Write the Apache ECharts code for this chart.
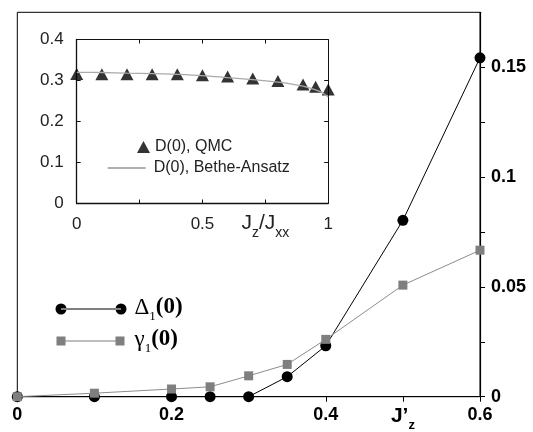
<!DOCTYPE html>
<html>
<head>
<meta charset="utf-8">
<script src="https://cdn.jsdelivr.net/npm/echarts@6/dist/echarts.min.js"></script>
<style>
html,body{margin:0;padding:0;background:#fff;}
#chart{width:533px;height:432px;}
</style>
</head>
<body>
<div id="chart"></div>
<script>
// Main panel data
const mainX = [0, 0.1, 0.2, 0.25, 0.3, 0.35, 0.4, 0.5, 0.6];
const delta1 = [0, 0, 0, 0, 0, 0.0091, 0.0232, 0.0803, 0.1543];
const gamma1 = [0, 0.0016, 0.0035, 0.0045, 0.0095, 0.0147, 0.0261, 0.0508, 0.0667];
const mainXTicks = [0, 0.1, 0.2, 0.3, 0.4, 0.5, 0.6];
const mainXLabels = [0, 0.2, 0.4, 0.5, 0.6];
const mainYTicks = [0, 0.025, 0.05, 0.075, 0.1, 0.125, 0.15];
const mainYLabels = [0, 0.05, 0.1, 0.15];

// Inset data
const qmcX = [0, 0.1, 0.2, 0.3, 0.4, 0.5, 0.6, 0.7, 0.8, 0.9, 0.95, 1.0];
const qmcD = [0.316, 0.315, 0.315, 0.315, 0.315, 0.313, 0.310, 0.305, 0.299, 0.290, 0.285, 0.278];
const baX = [0, 0.1, 0.2, 0.3, 0.4, 0.5, 0.6, 0.7, 0.8, 0.85, 0.9, 0.95, 0.98, 1.0];
const baD = [0.320, 0.3195, 0.318, 0.317, 0.315, 0.312, 0.307, 0.302, 0.296, 0.292, 0.286, 0.277, 0.269, 0.260];
const insetXTicks = [0.25, 0.5, 0.75];
const insetXLabels = [0, 0.5, 0.75, 1];
const insetYTicks = [0.1, 0.2, 0.3];

const zip = (xs, ys) => xs.map((x, i) => [x, ys[i]]);

const chart = echarts.init(document.getElementById('chart'), null, {renderer: 'canvas'});

const sans = 'Liberation Sans, Arial, Helvetica, sans-serif';
const serif = 'Liberation Serif, Times New Roman, serif';

const option = {
  backgroundColor: '#fff',
  animation: false,
  grid: [
    {left: 17.3, top: 12.3, width: 462.7, height: 384.4, show: true, borderColor: '#000', borderWidth: 1, backgroundColor: 'transparent', containLabel: false},
    {left: 76.7, top: 39.5, width: 251.5, height: 164, show: true, backgroundColor: '#fff', borderWidth: 0, containLabel: false}
  ],
  xAxis: [
    {
      gridIndex: 0, type: 'value', min: 0, max: 0.6, position: 'bottom',
      axisLine: {show: true, onZero: false, lineStyle: {color: '#000', width: 1.2}},
      axisTick: {show: true, inside: false, length: 5, customValues: mainXTicks, lineStyle: {color: '#000'}},
      splitLine: {show: false},
      axisLabel: {
        customValues: mainXLabels, margin: 9,
        fontFamily: sans, fontWeight: 'bold', fontSize: 18, color: '#000',
        formatter: v => Math.abs(v - 0.5) < 1e-9 ? '{j|J’}{s|z}' : '{n|' + v + '}',
        rich: {
          n: {fontFamily: sans, fontWeight: 'bold', fontSize: 18, lineHeight: 20, verticalAlign: 'top', color: '#000'},
          j: {fontFamily: sans, fontWeight: 'bold', fontSize: 21, lineHeight: 24, verticalAlign: 'top', color: '#000'},
          s: {fontFamily: sans, fontWeight: 'bold', fontSize: 13, lineHeight: 13, verticalAlign: 'top', padding: [13, 0, 0, 0], color: '#000'}
        }
      }
    },
    {
      gridIndex: 1, type: 'value', min: 0, max: 1, position: 'bottom',
      axisLine: {show: true, onZero: false, lineStyle: {color: '#111', width: 1.3}},
      axisTick: {show: true, inside: true, length: 4, customValues: insetXTicks, lineStyle: {color: '#111'}},
      splitLine: {show: false},
      axisLabel: {
        customValues: insetXLabels, margin: 9,
        formatter: v => Math.abs(v - 0.75) < 1e-9 ? '{j|J}{s|z}{j|/J}{s|xx}' : '{n|' + v + '}',
        rich: {
          n: {fontFamily: sans, fontSize: 17, lineHeight: 20, verticalAlign: 'top', padding: [3, 0, 0, 0], color: '#222'},
          j: {fontFamily: sans, fontSize: 21, lineHeight: 24, verticalAlign: 'top', color: '#222'},
          s: {fontFamily: sans, fontSize: 14, lineHeight: 14, verticalAlign: 'top', padding: [14, 0, 0, 0], color: '#222'}
        }
      }
    },
    {
      gridIndex: 1, type: 'value', min: 0, max: 1, position: 'top',
      axisLine: {show: true, onZero: false, lineStyle: {color: '#111', width: 1}},
      axisTick: {show: true, inside: true, length: 4, customValues: insetXTicks, lineStyle: {color: '#111'}},
      axisLabel: {show: false},
      splitLine: {show: false}
    }
  ],
  yAxis: [
    {
      gridIndex: 0, type: 'value', min: 0, max: 0.175, position: 'right',
      axisLine: {show: true, onZero: false, lineStyle: {color: '#000', width: 1.2}},
      axisTick: {show: true, inside: false, length: 5, customValues: mainYTicks, lineStyle: {color: '#000'}},
      splitLine: {show: false},
      axisLabel: {
        customValues: mainYLabels, margin: 11,
        fontFamily: sans, fontWeight: 'bold', fontSize: 18, color: '#000',
        formatter: v => String(v)
      }
    },
    {
      gridIndex: 1, type: 'value', min: 0, max: 0.4, interval: 0.1, position: 'left',
      axisLine: {show: true, onZero: false, lineStyle: {color: '#111', width: 1.3}},
      axisTick: {show: true, inside: true, length: 4, customValues: insetYTicks, lineStyle: {color: '#111'}},
      splitLine: {show: false},
      axisLabel: {margin: 13, fontFamily: sans, fontSize: 17, color: '#222', formatter: v => String(v)}
    },
    {
      gridIndex: 1, type: 'value', min: 0, max: 0.4, interval: 0.1, position: 'right',
      axisLine: {show: true, onZero: false, lineStyle: {color: '#111', width: 1}},
      axisTick: {show: true, inside: true, length: 4, customValues: insetYTicks, lineStyle: {color: '#111'}},
      axisLabel: {show: false},
      splitLine: {show: false}
    }
  ],
  legend: [
    {
      data: ['Δ1(0)'], left: 50.5, top: 291, orient: 'vertical',
      itemWidth: 71, itemHeight: 11, selectedMode: false,
      icon: 'path://M0,5.5A5.5,5.5,0,1,0,11,5.5A5.5,5.5,0,1,0,0,5.5Z M60,5.5A5.5,5.5,0,1,0,71,5.5A5.5,5.5,0,1,0,60,5.5Z M5.5,5h60v1h-60Z',
      formatter: () => '{d|Δ}{s|1}{b|(0)}',
      textStyle: {
        padding: [0, 0, 0, 3],
        rich: {
          d: {fontFamily: serif, fontSize: 23, lineHeight: 26, verticalAlign: 'top', color: '#000'},
          s: {fontFamily: serif, fontSize: 13, lineHeight: 13, verticalAlign: 'top', padding: [14, 0, 0, 0], color: '#000'},
          b: {fontFamily: serif, fontWeight: 'bold', fontSize: 23, lineHeight: 26, verticalAlign: 'top', color: '#000'}
        }
      }
    },
    {
      data: ['γ1(0)'], left: 51.5, top: 323, orient: 'vertical',
      itemWidth: 68, itemHeight: 9, selectedMode: false,
      icon: 'path://M0,0h9v9h-9Z M59,0h9v9h-9Z M9,4h50v1h-50Z',
      formatter: () => '{d|γ}{s|1}{b|(0)}',
      textStyle: {
        padding: [0, 0, 0, 5],
        rich: {
          d: {fontFamily: serif, fontSize: 23, lineHeight: 26, verticalAlign: 'top', color: '#000'},
          s: {fontFamily: serif, fontSize: 13, lineHeight: 13, verticalAlign: 'top', padding: [14, 0, 0, 0], color: '#000'},
          b: {fontFamily: serif, fontWeight: 'bold', fontSize: 23, lineHeight: 26, verticalAlign: 'top', color: '#000'}
        }
      }
    },
    {
      data: ['D(0), QMC'], left: 132, top: 134, orient: 'vertical',
      itemWidth: 13, itemHeight: 12, selectedMode: false, icon: 'triangle',
      textStyle: {fontFamily: sans, fontSize: 16, color: '#222', padding: [0, 0, 0, 0]}
    },
    {
      data: ['D(0), Bethe-Ansatz'], left: 102.7, top: 155, orient: 'vertical',
      itemWidth: 38, itemHeight: 2, selectedMode: false, icon: 'rect',
      textStyle: {fontFamily: sans, fontSize: 16, color: '#222', padding: [0, 0, 0, 3]}
    }
  ],
  series: [
    {
      name: 'Δ1(0)', type: 'line', xAxisIndex: 0, yAxisIndex: 0,
      data: zip(mainX, delta1),
      symbol: 'circle', symbolSize: 11, showAllSymbol: true,
      itemStyle: {color: '#000'},
      lineStyle: {color: '#000', width: 1},
      z: 3
    },
    {
      name: 'γ1(0)', type: 'line', xAxisIndex: 0, yAxisIndex: 0,
      data: zip(mainX, gamma1),
      symbol: 'rect', symbolSize: 9, showAllSymbol: true,
      itemStyle: {color: '#7f7f7f'},
      lineStyle: {color: '#8c8c8c', width: 1},
      z: 4
    },
    {
      name: 'D(0), Bethe-Ansatz', type: 'line', xAxisIndex: 1, yAxisIndex: 1,
      data: zip(baX, baD), showSymbol: false, smooth: 0.3,
      itemStyle: {color: '#b0b0b0'},
      lineStyle: {color: '#aaaaaa', width: 1.3},
      z: 5
    },
    {
      name: 'D(0), QMC', type: 'scatter', xAxisIndex: 1, yAxisIndex: 1,
      data: zip(qmcX, qmcD),
      symbol: 'triangle', symbolSize: [13, 12],
      itemStyle: {color: '#000'},
      z: 4
    }
  ]
};
chart.setOption(option);
</script>
</body>
</html>
